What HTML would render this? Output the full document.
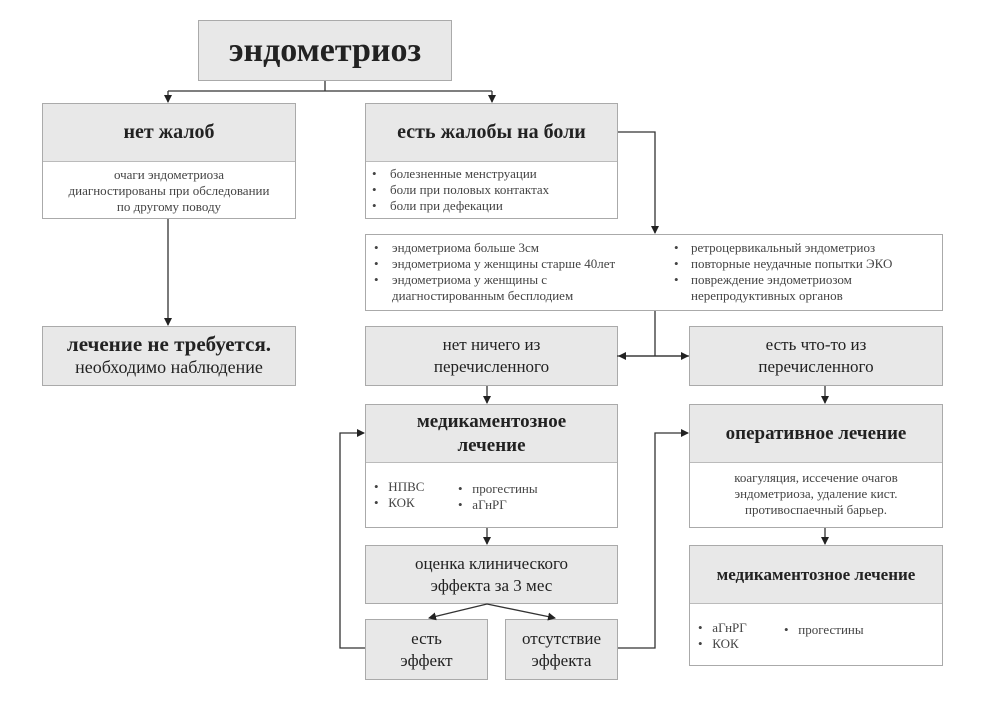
<!DOCTYPE html>
<html><head><meta charset="utf-8"><style>
body{margin:0;width:999px;height:725px;background:#fff;position:relative;font-family:"Liberation Serif","DejaVu Serif",serif;color:#222;overflow:hidden}
.b{position:absolute;box-sizing:border-box;border:1.5px solid #aaa;background:#fff}
.h{background:#e8e8e8;display:flex;align-items:center;justify-content:center;text-align:center;border-bottom:1.5px solid #bbb;box-sizing:border-box}
.g{background:#e8e8e8}
.t{font-weight:bold}
ul{margin:0;padding:0 0 0 24px;font-size:13px;line-height:16px;color:#444}
.c{text-align:center;font-size:13px;line-height:16px;color:#444}
svg{position:absolute;left:0;top:0}
</style></head><body>
<div class="b g h t" style="left:198px;top:20px;width:254px;height:61px;font-size:34px;border-bottom:1.5px solid #aaa">эндометриоз</div>

<div class="b" style="left:42px;top:103px;width:254px;height:116px">
<div class="h t" style="height:58px;font-size:20px">нет жалоб</div>
<div class="c" style="padding-top:5px">очаги эндометриоза<br>диагностированы при обследовании<br>по другому поводу</div></div>

<div class="b g" style="left:42px;top:326px;width:254px;height:60px;text-align:center;padding-top:5px">
<div class="t" style="font-size:21px;line-height:24px">лечение не требуется.</div><div style="font-size:18px;line-height:22px">необходимо наблюдение</div></div>

<div class="b" style="left:365px;top:103px;width:253px;height:116px">
<div class="h t" style="height:58px;font-size:20px">есть жалобы на боли</div>
<div style="position:relative;font-size:13px;line-height:16px;color:#444">
<div style="position:absolute;left:6px;top:4px">•<br>•<br>•</div>
<div style="position:absolute;left:24px;top:4px">болезненные менструации<br>боли при половых контактах<br>боли при дефекации</div></div></div>

<div class="b" style="left:365px;top:234px;width:578px;height:77px;font-size:13px;line-height:16px;color:#444">
<div style="position:absolute;left:8px;top:5px">•<br>•<br>•</div>
<div style="position:absolute;left:26px;top:5px">эндометриома больше 3см<br>эндометриома у женщины старше 40лет<br>эндометриома у женщины с<br>диагностированным бесплодием</div>
<div style="position:absolute;left:308px;top:5px">•<br>•<br>•</div>
<div style="position:absolute;left:325px;top:5px">ретроцервикальный эндометриоз<br>повторные неудачные попытки ЭКО<br>повреждение эндометриозом<br>нерепродуктивных органов</div></div>

<div class="b g h" style="left:365px;top:326px;width:253px;height:60px;font-size:17px;line-height:22px;border-bottom:1.5px solid #aaa">нет ничего из<br>перечисленного</div>
<div class="b g h" style="left:689px;top:326px;width:254px;height:60px;font-size:17px;line-height:22px;border-bottom:1.5px solid #aaa">есть что-то из<br>перечисленного</div>

<div class="b" style="left:365px;top:404px;width:253px;height:124px">
<div class="h t" style="height:58px;font-size:19px;line-height:24px">медикаментозное<br>лечение</div>
<div style="position:relative;font-size:13px;line-height:16px;color:#444">
<div style="position:absolute;left:8px;top:16px">•&nbsp;&nbsp; НПВС<br>•&nbsp;&nbsp; КОК</div>
<div style="position:absolute;left:92px;top:18px">•&nbsp;&nbsp; прогестины<br>•&nbsp;&nbsp; аГнРГ</div></div></div>

<div class="b" style="left:689px;top:404px;width:254px;height:124px">
<div class="h t" style="height:58px;font-size:19px">оперативное лечение</div>
<div class="c" style="padding-top:7px">коагуляция, иссечение очагов<br>эндометриоза, удаление кист.<br>противоспаечный барьер.</div></div>

<div class="b g h" style="left:365px;top:545px;width:253px;height:59px;font-size:17px;line-height:22px;border-bottom:1.5px solid #aaa">оценка клинического<br>эффекта за 3 мес</div>
<div class="b g h" style="left:365px;top:619px;width:123px;height:61px;font-size:17px;line-height:22px;border-bottom:1.5px solid #aaa">есть<br>эффект</div>
<div class="b g h" style="left:505px;top:619px;width:113px;height:61px;font-size:17px;line-height:22px;border-bottom:1.5px solid #aaa">отсутствие<br>эффекта</div>

<div class="b" style="left:689px;top:545px;width:254px;height:121px">
<div class="h t" style="height:58px;font-size:17px">медикаментозное лечение</div>
<div style="position:relative;font-size:13px;line-height:16px;color:#444">
<div style="position:absolute;left:8px;top:16px">•&nbsp;&nbsp; аГнРГ<br>•&nbsp;&nbsp; КОК</div>
<div style="position:absolute;left:94px;top:18px">•&nbsp;&nbsp; прогестины</div></div></div>

<svg width="999" height="725">
<defs><marker id="a" markerWidth="8" markerHeight="8" refX="7" refY="4" orient="auto" markerUnits="userSpaceOnUse"><path d="M0,0 L8,4 L0,8z" fill="#222"/></marker></defs>
<g stroke="#333" stroke-width="1.3" fill="none">
<path d="M325,81 V91 M168,91 H492"/>
<path d="M168,91 V102" marker-end="url(#a)"/><path d="M492,91 V102" marker-end="url(#a)"/>
<path d="M168,219 V325" marker-end="url(#a)"/>
<path d="M618,132 H655 V233" marker-end="url(#a)"/>
<path d="M655,311 V356 M617,356 H689"/>
<path d="M655,356 H619" marker-end="url(#a)"/><path d="M655,356 H688" marker-end="url(#a)"/>
<path d="M487,386 V403" marker-end="url(#a)"/><path d="M825,386 V403" marker-end="url(#a)"/>
<path d="M487,528 V544" marker-end="url(#a)"/><path d="M825,528 V544" marker-end="url(#a)"/>
<path d="M487,604 L429,618" marker-end="url(#a)"/><path d="M487,604 L555,618" marker-end="url(#a)"/>
<path d="M365,648 H340 V433 H364" marker-end="url(#a)"/>
<path d="M618,648 H655 V433 H688" marker-end="url(#a)"/>
</g></svg>
</body></html>
